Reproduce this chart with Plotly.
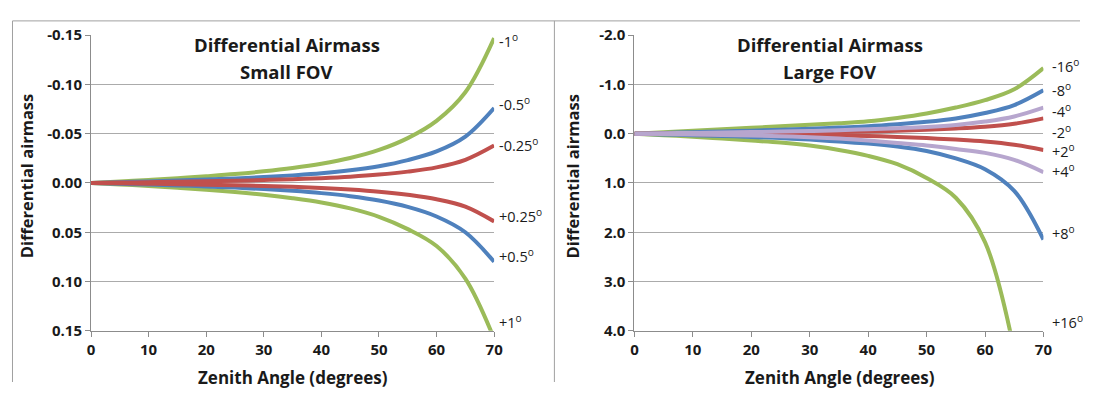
import plotly.graph_objects as go

W, H = 1097, 399          # target picture size
OFF = 8                   # default page margin around the figure
FW, FH = W - 2 * OFF, H - 2 * OFF

# ---------------- data ----------------
z_small = [0, 5, 10, 15, 20, 25, 30, 35, 40, 45, 50, 55, 60, 65, 70]
small_m1 = [0, -0.0015, -0.0031, -0.0048, -0.0068, -0.009, -0.0118, -0.0152, -0.0195, -0.0253, -0.0335, -0.0455, -0.063, -0.092, -0.147]
small_p1 = [0, 0.0015, 0.0031, 0.0049, 0.0069, 0.0092, 0.012, 0.0155, 0.0198, 0.0258, 0.0343, 0.0468, 0.064, 0.097, 0.158]
small_m05 = [0, -0.0008, -0.0016, -0.0025, -0.0035, -0.0046, -0.006, -0.0077, -0.0098, -0.0128, -0.017, -0.0232, -0.032, -0.047, -0.076]
small_p05 = [0, 0.0008, 0.0016, 0.0025, 0.0035, 0.0047, 0.0062, 0.008, 0.0103, 0.0134, 0.0178, 0.0243, 0.034, 0.050, 0.080]
small_m025 = [0, -0.0004, -0.0008, -0.0012, -0.0017, -0.0023, -0.003, -0.0038, -0.0049, -0.0064, -0.0085, -0.0115, -0.0158, -0.0235, -0.038]
small_p025 = [0, 0.0004, 0.0008, 0.0012, 0.0017, 0.0023, 0.003, 0.0039, 0.005, 0.0066, 0.0088, 0.012, 0.0165, 0.024, 0.039]

z_large = [0, 5, 10, 15, 20, 25, 30, 35, 40, 45, 50, 55, 60, 65, 70]
large_m16 = [0, -0.03, -0.06, -0.09, -0.12, -0.15, -0.18, -0.21, -0.25, -0.32, -0.41, -0.53, -0.68, -0.90, -1.33]
z_large_p16 = [0, 5, 10, 15, 20, 25, 30, 35, 40, 45, 50, 55, 60, 65]
large_p16 = [0, 0.03, 0.06, 0.10, 0.14, 0.18, 0.24, 0.33, 0.45, 0.62, 0.90, 1.30, 2.20, 4.40]
large_m8 = [0, -0.015, -0.03, -0.045, -0.06, -0.08, -0.10, -0.125, -0.15, -0.19, -0.24, -0.31, -0.42, -0.58, -0.88]
large_p8 = [0, 0.015, 0.03, 0.045, 0.065, 0.09, 0.12, 0.16, 0.20, 0.26, 0.35, 0.50, 0.72, 1.16, 2.15]
large_m4 = [0, -0.008, -0.016, -0.024, -0.032, -0.042, -0.055, -0.07, -0.09, -0.11, -0.135, -0.175, -0.245, -0.35, -0.53]
large_p4 = [0, 0.008, 0.016, 0.026, 0.036, 0.05, 0.07, 0.10, 0.14, 0.19, 0.24, 0.31, 0.39, 0.53, 0.78]
large_m2 = [0, -0.004, -0.008, -0.012, -0.017, -0.022, -0.028, -0.035, -0.045, -0.06, -0.08, -0.105, -0.14, -0.20, -0.31]
large_p2 = [0, 0.004, 0.008, 0.012, 0.017, 0.022, 0.028, 0.036, 0.047, 0.065, 0.09, 0.12, 0.16, 0.225, 0.33]

x_ticks = [0, 10, 20, 30, 40, 50, 60, 70]
y_small_ticks = [-0.15, -0.10, -0.05, 0.0, 0.05, 0.10, 0.15]
y_small_text = ["-0.15", "-0.10", "-0.05", "0.00", "0.05", "0.10", "0.15"]
y_large_ticks = [-2, -1, 0, 1, 2, 3, 4]
y_large_text = ["-2.0", "-1.0", "0.0", "1.0", "2.0", "3.0", "4.0"]

small_labels = ["-1", "-0.5", "-0.25", "+0.25", "+0.5", "+1"]
large_labels = ["-16", "-8", "-4", "-2", "+2", "+4", "+8", "+16"]

# ---------------- style ----------------
GREEN = "#9BBB59"
BLUE = "#4F81BD"
RED = "#C0504D"
PURPLE = "#B7A6CE"
LW = 4
FONT = "Open Sans"
AX = "#8C8C8C"
GRID = "#ABABAB"
TXT = "#1a1a1a"

fig = go.Figure()

def add(x, y, color, xa, ya):
    fig.add_trace(go.Scatter(x=x, y=y, mode="lines", line=dict(color=color, width=LW, shape="spline", smoothing=1.0),
                             xaxis=xa, yaxis=ya, showlegend=False, hoverinfo="skip"))

add(z_small, small_m1, GREEN, "x", "y")
add(z_small, small_p1, GREEN, "x", "y")
add(z_small, small_m05, BLUE, "x", "y")
add(z_small, small_p05, BLUE, "x", "y")
add(z_small, small_m025, RED, "x", "y")
add(z_small, small_p025, RED, "x", "y")
add(z_large, large_m16, GREEN, "x2", "y2")
add(z_large_p16, large_p16, GREEN, "x2", "y2")
add(z_large, large_m8, BLUE, "x2", "y2")
add(z_large, large_p8, BLUE, "x2", "y2")
add(z_large, large_m2, RED, "x2", "y2")
add(z_large, large_p2, RED, "x2", "y2")
add(z_large, large_m4, PURPLE, "x2", "y2")
add(z_large, large_p4, PURPLE, "x2", "y2")

# screen pixel -> paper fraction
def px(x):
    return (x - OFF) / FW

def py(y):
    return 1 - (y - OFF) / FH

tickfont = dict(family=FONT, size=15, color=TXT, weight=700)
xcommon = dict(range=[0, 70], tickvals=x_ticks, ticks="outside", ticklen=5, tickcolor=AX,
               showline=True, linecolor=AX, linewidth=1, showgrid=False, zeroline=False,
               tickfont=tickfont, fixedrange=True)
ycommon = dict(ticks="outside", ticklen=5, tickcolor=AX, showline=True, linecolor=AX, linewidth=1,
               showgrid=True, gridcolor=GRID, gridwidth=1, zeroline=False, tickfont=tickfont, fixedrange=True)

fig.update_layout(
    width=FW, height=FH,
    margin=dict(l=0, r=0, t=0, b=0),
    paper_bgcolor="white", plot_bgcolor="white",
    xaxis=dict(domain=[px(88), px(496)], anchor="y", **xcommon),
    yaxis=dict(domain=[py(337), py(25)], anchor="x", range=[0.15, -0.15],
               tickvals=y_small_ticks, ticktext=y_small_text, **ycommon),
    xaxis2=dict(domain=[px(638), px(1052)], anchor="y2", **xcommon),
    yaxis2=dict(domain=[py(337), py(25)], anchor="x2", range=[4, -2],
                tickvals=y_large_ticks, ticktext=y_large_text, **ycommon),
)

ann = []
def text(x, y, s, size=14, bold=False, angle=0, xanchor="center"):
    ann.append(dict(x=px(x), y=py(y), xref="paper", yref="paper", text=s, showarrow=False,
                    xanchor=xanchor, yanchor="middle", textangle=angle,
                    font=dict(family=FONT, size=size, color=TXT, weight=700 if bold else 400)))

text(286, 35, "Differential Airmass", size=18.5, bold=True)
text(286, 63, "Small FOV", size=18.5, bold=True)
text(836, 35, "Differential Airmass", size=18.5, bold=True)
text(836, 63, "Large FOV", size=18.5, bold=True)

text(292, 386, "Zenith Angle (degrees)", size=17, bold=True)
text(846, 386, "Zenith Angle (degrees)", size=17, bold=True)
text(23, 174, "Differential airmass", size=16.5, bold=True, angle=-90)
text(575, 174, "Differential airmass", size=16.5, bold=True, angle=-90)

small_label_y = [31, 97, 140, 215, 258, 327]
for lab, yy in zip(small_labels, small_label_y):
    text(499, yy, lab + "<sup>o</sup>", size=14.5, xanchor="left")
large_label_y = [57, 82, 105, 127, 147, 168, 233, 327]
for lab, yy in zip(large_labels, large_label_y):
    text(1059, yy, lab + "<sup>o</sup>", size=14.5, xanchor="left")

fig.update_layout(annotations=ann)

FR = "#A0A0A0"
shapes = [
    dict(type="line", xref="paper", yref="paper", x0=px(8.5), x1=1, y0=py(10), y1=py(10), line=dict(color=FR, width=1)),
    dict(type="line", xref="paper", yref="paper", x0=px(8.5), x1=px(8.5), y0=py(10), y1=0, line=dict(color=FR, width=1)),
    dict(type="line", xref="paper", yref="paper", x0=px(557), x1=px(557), y0=py(10), y1=0, line=dict(color=FR, width=1)),
]
fig.update_layout(shapes=shapes)

fig.write_html("out.html", config={"displayModeBar": False})
